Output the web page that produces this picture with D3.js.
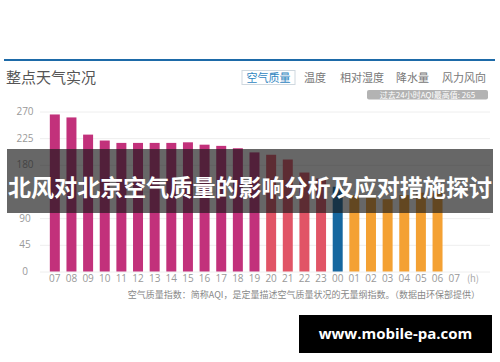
<!DOCTYPE html>
<html><head><meta charset="utf-8">
<script src="https://cdn.jsdelivr.net/npm/d3@7"></script>
<style>
html,body{margin:0;padding:0;background:#fff;}
svg{display:block;font-family:"Noto Sans CJK SC","Noto Sans",sans-serif;}
</style></head>
<body>
<svg id="c" width="500" height="362"></svg>
<script>
const hours = ["07","08","09","10","11","12","13","14","15","16","17","18","19","20","21","22","23","00","01","02","03","04","05","06","07"];
const aqi = [265,260,231,221,217,217,217,217,218,214,212,208,201,197,189,167,157,143,129,125,122,129,133,133];
const level = ["h","h","h","h","h","h","h","h","h","h","h","h","h","m","m","m","m","s","l","l","l","l","l","l"];
const yTicks = [0,45,90,135,180,225,270];
const yLabelTicks = [0,45,90,180,225,270];
const tabs = ["空气质量","温度","相对湿度","降水量","风力风向"];
const levelColor = {h:"#c2317b", m:"#e15466", s:"#16679f", l:"#f4a133"};

const svg = d3.select("#c");
const x = d3.scaleBand().domain(d3.range(hours.length)).range([46.5, 462.5]).paddingInner(0.4).paddingOuter(0.2);
const y = d3.scaleLinear().domain([0,270]).range([271.5,111.5]);

// top blue rule
svg.append("line").attr("x1",4).attr("x2",495).attr("y1",60).attr("y2",60).attr("stroke","#1d6aa8").attr("stroke-width",2.2);
// title
svg.append("text").attr("x",6).attr("y",83).attr("font-size",15).attr("fill","#555").text("整点天气实况");

// tabs
const tabX = [242,304,340,396,442];
const tabW = [53,22,46,34,48];
tabs.forEach((t,i)=>{
  if(i===0){
    svg.append("rect").attr("x",tabX[i]).attr("y",70.5).attr("width",tabW[i]).attr("height",14).attr("fill","#fff").attr("stroke","#cfd8df");
    svg.append("text").attr("x",tabX[i]+tabW[i]/2).attr("y",81.5).attr("text-anchor","middle").attr("font-size",11).attr("fill","#2f86bf").text(t);
  } else {
    svg.append("text").attr("x",tabX[i]).attr("y",81.5).attr("font-size",11).attr("fill","#777").text(t);
  }
});
// max pill
svg.append("rect").attr("x",367).attr("y",90).attr("width",121).attr("height",9.5).attr("rx",2).attr("fill","#b3b3b3");
svg.append("text").attr("x",427.5).attr("y",97.8).attr("text-anchor","middle").attr("font-size",8).attr("fill","#fff").text("过去24小时AQI最高值: 265");

// gridlines
svg.append("g").selectAll("line").data(yTicks).join("line")
  .attr("x1",40).attr("x2",490).attr("y1",d=>y(d)+0.5).attr("y2",d=>y(d)+0.5)
  .attr("stroke","#eeeeee");
// y labels (135 is hidden under the banner in the reference)
svg.append("g").selectAll("text").data(yLabelTicks).join("text")
  .attr("x",25).attr("y",d=>y(d)+3.5).attr("text-anchor","middle").attr("font-size",10)
  .attr("font-family","Open Sans, sans-serif").attr("fill","#999").text(d=>d);

// bars
svg.append("g").selectAll("rect").data(aqi).join("rect")
  .attr("x",(d,i)=>x(i)).attr("width",x.bandwidth())
  .attr("y",d=>y(d)).attr("height",d=>y(0)-y(d))
  .attr("fill",(d,i)=>levelColor[level[i]]);

// x labels
svg.append("g").selectAll("text").data(hours).join("text")
  .attr("x",(d,i)=>x(i)+x.bandwidth()/2).attr("y",282).attr("text-anchor","middle")
  .attr("font-size",10).attr("font-family","Open Sans, sans-serif").attr("fill","#999").text(d=>d);
svg.append("text").attr("x",473).attr("y",282).attr("text-anchor","middle").attr("font-size",9.5).attr("fill","#aaa").text("(h)");

// footer note
svg.append("text").attr("x",480).attr("y",298).attr("text-anchor","end").attr("font-size",9).attr("fill","#888")
  .text("空气质量指数：简称AQI，是定量描述空气质量状况的无量纲指数。（数据由环保部提供）");

// banner overlay
svg.append("rect").attr("x",7).attr("y",149).attr("width",486).attr("height",64).attr("fill","rgba(25,25,25,0.66)");
svg.append("text").attr("x",250).attr("y",196).attr("text-anchor","middle").attr("font-size",23).attr("font-weight",700)
  .attr("fill","#fff").attr("textLength",484).attr("lengthAdjust","spacingAndGlyphs")
  .text("北风对北京空气质量的影响分析及应对措施探讨");

// url box
svg.append("rect").attr("x",299).attr("y",315).attr("width",193).attr("height",38).attr("fill","#000");
svg.append("text").attr("x",395.5).attr("y",339).attr("text-anchor","middle").attr("font-size",15).attr("font-weight",700)
  .attr("font-family","Open Sans, DejaVu Sans, sans-serif").attr("fill","#fff").text("www.mobile-pa.com");
</script>
</body></html>
